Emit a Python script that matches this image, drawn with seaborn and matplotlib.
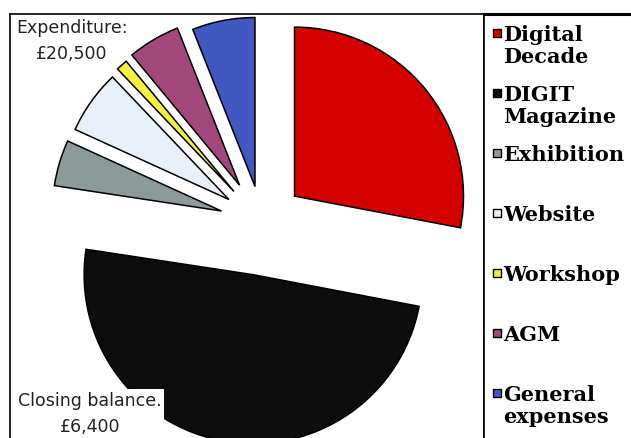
import matplotlib
matplotlib.use("Agg")
import matplotlib.pyplot as plt
import matplotlib.patches as mpatches
import seaborn as sns

# share of each heading (%)
categories = ["Digital Decade", "DIGIT Magazine", "Exhibition", "Website",
              "Workshop", "AGM", "General expenses"]
shares = [28.0, 49.4, 4.4, 6.1, 1.1, 5.0, 6.0]
legend_labels = ["Digital\nDecade", "DIGIT\nMagazine", "Exhibition", "Website",
                 "Workshop", "AGM", "General\nexpenses"]
expenditure_text = "Expenditure:\n£20,500"
balance_text = "Closing balance.\n£6,400"

colors = ["#d40000", "#0d0d0d", "#8c9a9a", "#e8eff8", "#f2f23c", "#a3487a", "#4058c0"]
explode = [0.25, 0.31, 0.25, 0.24, 0.25, 0.26, 0.22]

W, H = 631, 438
sns.set_theme(style="white")

fig = plt.figure(figsize=(W / 100, H / 100), dpi=100)
fig.patch.set_facecolor("white")

# pie area (frame from x=10..484, y=14..bottom)
ax = fig.add_axes([10 / W, 0, 474 / W, 424 / H])
wedges, _ = ax.pie(shares, colors=colors, explode=explode, startangle=90,
                   counterclock=False, labels=None,
                   wedgeprops=dict(edgecolor="black", linewidth=1.1, clip_on=True))
ax.set_aspect("auto")
ax.set_xlim(-1.491, 1.314)
ax.set_ylim(-1.272, 1.237)
ax.set_frame_on(True)
for sp in ax.spines.values():
    sp.set_visible(True)
    sp.set_color("black")
    sp.set_linewidth(1.2)
ax.spines["bottom"].set_visible(False)

# legend panel
lax = fig.add_axes([484 / W, 0, 147 / W, 424 / H])
lax.set_xlim(0, 147)
lax.set_ylim(424, 0)
lax.set_xticks([])
lax.set_yticks([])
for sp in lax.spines.values():
    sp.set_visible(False)
lax.spines["left"].set_visible(True)
lax.spines["left"].set_color("black")
lax.spines["left"].set_linewidth(1.2)
lax.spines["top"].set_visible(True)
lax.spines["top"].set_color("black")
lax.spines["top"].set_linewidth(2.2)

for i, (lab, col) in enumerate(zip(legend_labels, colors)):
    yc = 19 + i * 60
    lax.add_patch(mpatches.Rectangle((9, yc - 4), 8, 8, facecolor=col,
                                     edgecolor="black", linewidth=1))
    lax.text(19, yc - 8, lab, ha="left", va="top", fontsize=15,
             fontweight="bold", family="DejaVu Serif", color="black",
             linespacing=1.12)

fig.text(16 / W, 1 - 19 / H, expenditure_text, ha="left", va="top",
         multialignment="center", fontsize=12.5, family="DejaVu Sans",
         color="#222222", linespacing=1.6)
fig.text(18 / W, 1 - 392 / H, balance_text, ha="left", va="top",
         multialignment="center", fontsize=12.5, family="DejaVu Sans",
         color="#222222", linespacing=1.55,
         bbox=dict(facecolor="white", edgecolor="none", pad=2))

fig.savefig("out.png", dpi=100, facecolor="white")
